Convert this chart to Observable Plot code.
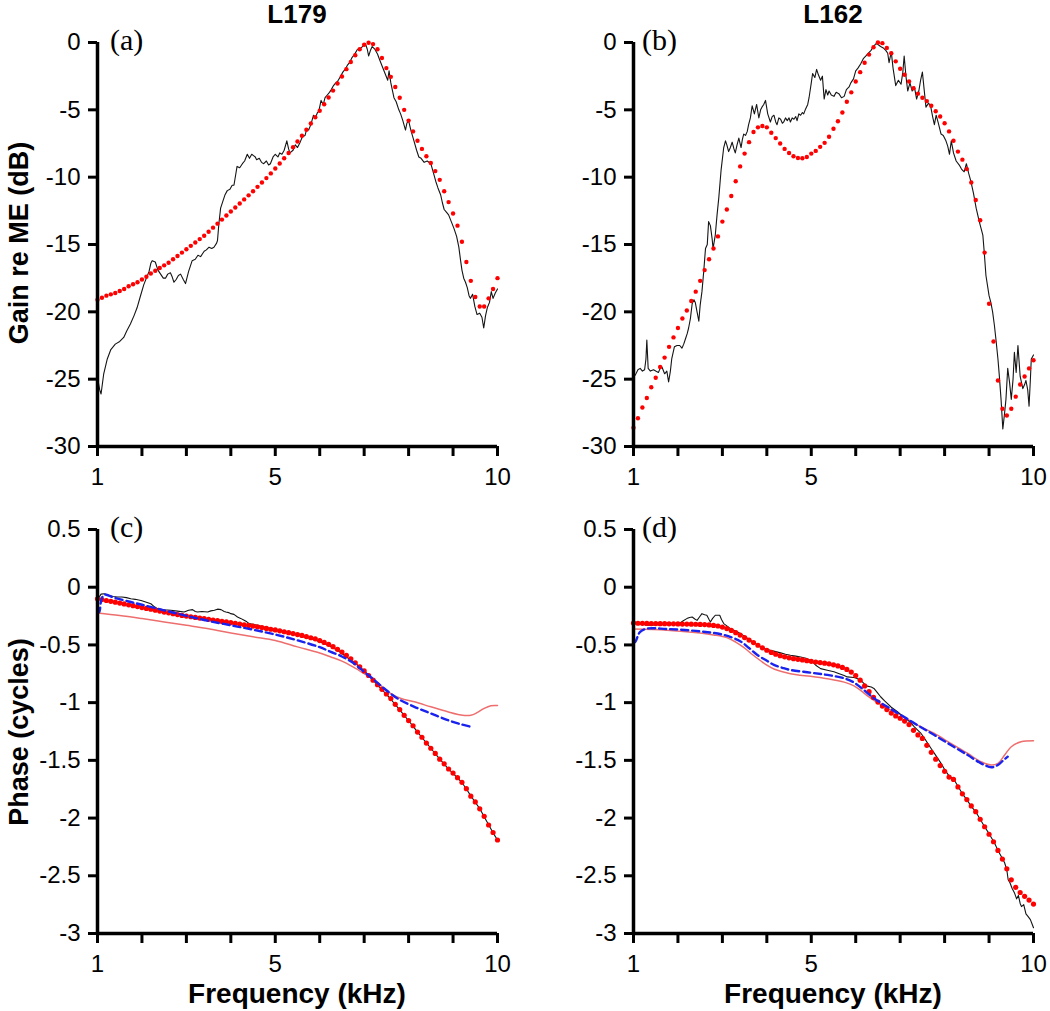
<!DOCTYPE html>
<html><head><meta charset="utf-8">
<script src="https://cdn.jsdelivr.net/npm/d3@7"></script>
<script src="https://cdn.jsdelivr.net/npm/@observablehq/plot@0.6"></script>
<style>
body{margin:0;background:#fff;}
#wrap{position:relative;width:1050px;height:1011px;font-family:"Liberation Sans",Arial,sans-serif;overflow:hidden;}
.panel{position:absolute;}
.t{position:absolute;line-height:1;white-space:nowrap;color:#000;}
.b{font-weight:bold;}
.serif{font-family:"Liberation Serif","Times New Roman",serif;font-size:30px;}
</style></head><body><div id="wrap"></div>
<script>
// ---------- axes / ticks ----------
const xTicks = [1,2,3,4,5,6,7,8,9,10];
const xLabels = [1,5,10];
const gainTicks = [-30,-25,-20,-15,-10,-5,0];
const phaseTicks = [-3,-2.5,-2,-1.5,-1,-0.5,0,0.5];
const subjects = ["L179","L162"];
const panelLetters = ["(a)","(b)","(c)","(d)"];

// model curves (red dots), sampled every 0.1 kHz from 1 to 10 kHz
const modelFreq = d3.range(0, 91).map(i => Math.round((1 + i / 10) * 10) / 10);

const modelGainA = [
 -19.1,-18.95,-18.8,-18.7,-18.6,-18.45,-18.3,-18.1,-17.95,-17.8,
 -17.6,-17.4,-17.15,-16.95,-16.75,-16.55,-16.35,-16.1,-15.85,-15.6,
 -15.35,-15.1,-14.85,-14.6,-14.35,-14.05,-13.75,-13.45,-13.15,-12.85,
 -12.55,-12.25,-11.95,-11.65,-11.35,-11.05,-10.72,-10.4,-10.07,-9.72,
 -9.36,-8.99,-8.6,-8.2,-7.78,-7.35,-6.92,-6.48,-6.02,-5.55,
 -5.07,-4.58,-4.08,-3.57,-3.05,-2.52,-1.98,-1.45,-0.95,-0.5,
 -0.17,-0.02,-0.12,-0.5,-1.15,-1.9,-2.55,-3.3,-4.1,-5.0,
 -5.8,-6.6,-7.3,-7.9,-8.45,-8.95,-9.55,-10.2,-11.05,-11.85,
 -12.7,-13.6,-14.8,-16.3,-17.7,-18.9,-19.6,-19.6,-19.0,-18.3,
 -17.5];

const modelGainB = [
 -28.6,-27.9,-27.1,-26.4,-25.6,-24.9,-24.1,-23.4,-22.6,-21.9,
 -21.2,-20.5,-19.9,-19.2,-18.5,-17.7,-16.9,-16.1,-15.3,-14.4,
 -13.3,-12.4,-11.4,-10.3,-9.2,-8.25,-7.4,-6.65,-6.3,-6.2,
 -6.3,-6.7,-7.1,-7.5,-7.9,-8.2,-8.45,-8.58,-8.6,-8.5,
 -8.25,-8.05,-7.75,-7.45,-7.0,-6.4,-5.85,-5.2,-4.4,-3.7,
 -2.9,-2.2,-1.5,-0.9,-0.35,0,-0.05,-0.4,-0.8,-1.4,
 -1.95,-2.4,-2.9,-3.4,-3.8,-4.1,-4.35,-4.7,-5.1,-5.5,
 -6.0,-6.6,-7.3,-8.1,-8.7,-9.4,-10.4,-11.7,-13.2,-15.6,
 -19.4,-22.2,-25.1,-27.2,-27.7,-27.2,-26.3,-25.4,-24.8,-24.2,
 -23.6];

const modelPhaseC = [
 -0.1,-0.107,-0.115,-0.122,-0.13,-0.137,-0.145,-0.153,-0.16,-0.168,
 -0.176,-0.184,-0.191,-0.199,-0.207,-0.215,-0.222,-0.229,-0.237,-0.244,
 -0.25,-0.256,-0.262,-0.267,-0.272,-0.278,-0.284,-0.29,-0.296,-0.301,
 -0.307,-0.313,-0.319,-0.325,-0.331,-0.337,-0.343,-0.35,-0.357,-0.364,
 -0.37,-0.378,-0.386,-0.394,-0.402,-0.41,-0.418,-0.428,-0.438,-0.447,
 -0.462,-0.478,-0.495,-0.515,-0.538,-0.562,-0.59,-0.62,-0.655,-0.69,
 -0.725,-0.765,-0.805,-0.845,-0.885,-0.925,-0.965,-1.015,-1.06,-1.11,
 -1.155,-1.2,-1.255,-1.3,-1.35,-1.395,-1.44,-1.49,-1.53,-1.575,
 -1.61,-1.65,-1.69,-1.745,-1.81,-1.86,-1.92,-1.985,-2.06,-2.125,
 -2.19];

const modelPhaseD = [
 -0.31,-0.312,-0.313,-0.314,-0.315,-0.315,-0.316,-0.316,-0.317,-0.317,
 -0.318,-0.319,-0.319,-0.32,-0.321,-0.322,-0.324,-0.327,-0.331,-0.336,
 -0.345,-0.358,-0.374,-0.394,-0.415,-0.436,-0.458,-0.48,-0.503,-0.525,
 -0.546,-0.565,-0.58,-0.593,-0.603,-0.612,-0.619,-0.625,-0.63,-0.636,
 -0.642,-0.648,-0.653,-0.658,-0.664,-0.672,-0.682,-0.695,-0.712,-0.735,
 -0.765,-0.805,-0.855,-0.905,-0.955,-0.995,-1.03,-1.06,-1.09,-1.115,
 -1.135,-1.16,-1.19,-1.24,-1.28,-1.31,-1.37,-1.43,-1.49,-1.545,
 -1.595,-1.645,-1.665,-1.73,-1.79,-1.84,-1.895,-1.945,-2.01,-2.075,
 -2.14,-2.205,-2.28,-2.355,-2.44,-2.535,-2.6,-2.645,-2.678,-2.71,
 -2.745];

// measured curves (black): [kHz, value]
const measGainA = [[1.0,-24.9],[1.05,-25.8],[1.08,-26.1],[1.14,-24.6],[1.22,-23.5],[1.3,-22.8],[1.4,-22.4],[1.5,-22.2],[1.59,-21.9],[1.66,-21.4],[1.74,-20.9],[1.82,-20.3],[1.89,-19.7],[1.96,-18.9],[2.04,-18.0],[2.1,-17.5],[2.16,-17.0],[2.2,-16.4],[2.23,-16.2],[2.3,-16.3],[2.36,-16.9],[2.42,-17.2],[2.48,-17.5],[2.53,-17.5],[2.58,-17.2],[2.64,-17.1],[2.68,-17.4],[2.72,-17.8],[2.77,-17.6],[2.82,-17.3],[2.87,-17.2],[2.93,-17.6],[2.98,-17.9],[3.05,-17.0],[3.13,-16.2],[3.2,-16.1],[3.26,-15.8],[3.32,-15.9],[3.4,-15.5],[3.45,-15.4],[3.51,-15.2],[3.57,-15.3],[3.62,-15.2],[3.68,-14.9],[3.7,-14.7],[3.73,-13.5],[3.77,-12.3],[3.82,-11.8],[3.87,-11.3],[3.92,-11.0],[3.98,-10.9],[4.03,-10.6],[4.07,-10.6],[4.11,-9.8],[4.14,-9.2],[4.2,-9.3],[4.26,-9.0],[4.31,-8.8],[4.37,-8.3],[4.42,-8.6],[4.47,-8.3],[4.51,-8.4],[4.55,-8.5],[4.58,-8.7],[4.64,-8.6],[4.69,-8.9],[4.74,-9.0],[4.8,-8.8],[4.85,-9.1],[4.89,-9.0],[4.95,-8.5],[5.0,-8.3],[5.06,-8.5],[5.1,-8.2],[5.15,-8.3],[5.2,-8.0],[5.26,-7.3],[5.3,-7.9],[5.33,-8.2],[5.4,-8.0],[5.45,-7.6],[5.5,-7.8],[5.56,-7.4],[5.61,-7.0],[5.67,-6.9],[5.71,-6.4],[5.75,-6.5],[5.8,-6.1],[5.86,-5.4],[5.9,-5.6],[5.95,-5.2],[5.98,-5.1],[6.03,-4.3],[6.08,-4.6],[6.12,-4.1],[6.17,-3.9],[6.22,-3.7],[6.26,-3.5],[6.31,-3.2],[6.36,-3.0],[6.4,-2.9],[6.47,-2.5],[6.52,-2.2],[6.57,-2.0],[6.62,-1.7],[6.67,-1.5],[6.73,-1.1],[6.78,-0.9],[6.85,-0.5],[6.9,-0.5],[6.96,-0.3],[7.0,-0.15],[7.03,-0.1],[7.07,-0.5],[7.1,-1.0],[7.14,-0.6],[7.18,-0.3],[7.24,-0.5],[7.3,-0.85],[7.35,-1.3],[7.41,-1.8],[7.47,-2.3],[7.53,-2.8],[7.56,-2.1],[7.6,-3.0],[7.67,-4.1],[7.72,-4.4],[7.78,-5.0],[7.82,-5.3],[7.87,-5.8],[7.93,-6.5],[7.96,-6.0],[8.0,-5.8],[8.05,-6.5],[8.12,-7.3],[8.18,-8.0],[8.23,-8.5],[8.28,-8.6],[8.35,-8.9],[8.42,-8.8],[8.5,-9.0],[8.56,-9.7],[8.61,-10.3],[8.66,-10.8],[8.72,-11.3],[8.76,-11.9],[8.8,-12.4],[8.85,-12.6],[8.9,-12.8],[8.96,-13.3],[9.02,-13.8],[9.08,-14.4],[9.13,-15.2],[9.17,-16.2],[9.2,-16.9],[9.24,-17.5],[9.28,-17.8],[9.32,-18.2],[9.36,-18.8],[9.39,-19.0],[9.44,-18.7],[9.49,-19.6],[9.54,-20.2],[9.6,-20.1],[9.65,-20.4],[9.69,-21.2],[9.73,-20.3],[9.77,-19.7],[9.82,-19.3],[9.86,-18.5],[9.9,-19.0],[9.95,-18.6],[10.0,-18.3]];

const measGainB = [[1.0,-24.8],[1.04,-24.7],[1.1,-24.3],[1.15,-24.2],[1.2,-24.4],[1.25,-24.3],[1.28,-23.5],[1.3,-22.1],[1.33,-24.2],[1.38,-24.4],[1.45,-24.3],[1.5,-24.4],[1.56,-24.5],[1.6,-24.2],[1.64,-24.1],[1.7,-24.6],[1.75,-24.4],[1.79,-25.2],[1.83,-24.4],[1.86,-23.5],[1.92,-22.6],[1.98,-22.5],[2.04,-22.5],[2.09,-22.7],[2.13,-22.4],[2.17,-22.0],[2.21,-21.6],[2.24,-21.2],[2.28,-20.5],[2.32,-19.4],[2.36,-19.1],[2.39,-19.3],[2.43,-20.0],[2.47,-20.7],[2.5,-19.5],[2.54,-18.5],[2.58,-17.0],[2.62,-15.3],[2.66,-15.0],[2.69,-13.3],[2.73,-13.6],[2.77,-14.6],[2.79,-15.3],[2.84,-14.3],[2.88,-12.8],[2.92,-11.5],[2.97,-9.5],[3.03,-7.8],[3.07,-7.3],[3.1,-7.6],[3.14,-8.1],[3.18,-7.8],[3.22,-7.4],[3.26,-7.9],[3.29,-8.2],[3.33,-7.6],[3.37,-7.1],[3.42,-7.8],[3.45,-7.2],[3.48,-6.8],[3.52,-6.9],[3.56,-6.6],[3.59,-6.1],[3.63,-5.6],[3.67,-4.7],[3.72,-5.3],[3.77,-4.6],[3.8,-5.2],[3.82,-5.6],[3.86,-5.0],[3.89,-4.8],[3.93,-4.6],[3.97,-4.3],[4.02,-5.3],[4.08,-5.9],[4.12,-5.5],[4.16,-5.4],[4.2,-5.9],[4.23,-6.1],[4.27,-5.6],[4.31,-5.7],[4.35,-6.0],[4.38,-5.9],[4.42,-5.6],[4.46,-5.8],[4.5,-5.6],[4.53,-5.9],[4.57,-5.6],[4.61,-5.7],[4.65,-5.5],[4.68,-5.8],[4.72,-5.3],[4.76,-5.4],[4.8,-5.2],[4.83,-5.3],[4.87,-4.95],[4.92,-4.6],[4.95,-4.1],[5.0,-3.0],[5.03,-2.3],[5.08,-2.6],[5.12,-2.0],[5.16,-2.4],[5.21,-2.8],[5.25,-2.5],[5.29,-4.2],[5.33,-3.5],[5.37,-3.9],[5.4,-3.6],[5.45,-3.9],[5.51,-4.0],[5.56,-3.7],[5.62,-3.8],[5.68,-4.1],[5.74,-4.0],[5.79,-3.5],[5.85,-3.3],[5.89,-3.0],[5.95,-2.7],[6.0,-2.1],[6.05,-1.9],[6.11,-1.6],[6.17,-1.2],[6.23,-1.0],[6.28,-0.8],[6.34,-0.6],[6.4,-0.3],[6.45,-0.1],[6.5,-0.15],[6.56,-0.3],[6.62,-0.4],[6.68,-0.6],[6.72,-0.8],[6.75,-1.5],[6.8,-0.7],[6.84,-1.9],[6.9,-3.2],[6.96,-2.8],[7.02,-3.1],[7.06,-2.2],[7.09,-1.0],[7.13,-2.5],[7.17,-3.6],[7.22,-3.0],[7.27,-3.6],[7.32,-3.3],[7.37,-4.2],[7.42,-3.6],[7.46,-2.8],[7.5,-2.2],[7.54,-3.5],[7.58,-4.8],[7.64,-4.5],[7.69,-4.8],[7.73,-5.5],[7.77,-6.1],[7.81,-5.4],[7.86,-6.0],[7.92,-6.8],[7.97,-6.9],[8.03,-7.3],[8.07,-7.7],[8.11,-8.3],[8.15,-7.3],[8.2,-8.2],[8.26,-8.8],[8.33,-9.1],[8.38,-9.4],[8.44,-9.6],[8.49,-9.0],[8.54,-9.7],[8.59,-10.3],[8.65,-11.2],[8.71,-12.3],[8.78,-13.3],[8.82,-13.8],[8.86,-14.3],[8.89,-15.5],[8.93,-17.3],[9.0,-18.8],[9.04,-19.3],[9.08,-20.0],[9.12,-21.0],[9.16,-22.2],[9.2,-23.5],[9.23,-24.7],[9.27,-26.5],[9.31,-28.7],[9.35,-27.5],[9.38,-26.5],[9.42,-24.2],[9.46,-25.2],[9.5,-26.5],[9.54,-25.0],[9.57,-23.0],[9.61,-24.5],[9.65,-22.5],[9.7,-24.8],[9.76,-25.7],[9.8,-25.4],[9.83,-25.1],[9.87,-25.8],[9.9,-27.0],[9.93,-25.0],[9.95,-23.5],[10.0,-23.2]];

const measPhaseC = [[1.0,-0.13],[1.03,-0.09],[1.08,-0.06],[1.15,-0.056],[1.25,-0.07],[1.35,-0.08],[1.45,-0.085],[1.55,-0.085],[1.65,-0.09],[1.75,-0.1],[1.85,-0.105],[1.98,-0.115],[2.1,-0.13],[2.2,-0.143],[2.28,-0.17],[2.35,-0.186],[2.5,-0.195],[2.65,-0.2],[2.8,-0.207],[2.95,-0.215],[3.05,-0.2],[3.14,-0.194],[3.2,-0.21],[3.25,-0.215],[3.35,-0.21],[3.48,-0.215],[3.55,-0.205],[3.63,-0.2],[3.7,-0.19],[3.78,-0.194],[3.85,-0.21],[3.89,-0.215],[3.95,-0.22],[4.0,-0.229],[4.07,-0.235],[4.15,-0.258],[4.22,-0.27],[4.3,-0.287],[4.36,-0.3],[4.41,-0.315],[4.5,-0.322],[4.6,-0.33],[4.75,-0.345],[4.9,-0.359],[5.05,-0.37],[5.2,-0.379],[5.35,-0.398],[5.5,-0.413],[5.65,-0.43],[5.8,-0.445],[5.95,-0.465],[6.1,-0.488],[6.2,-0.505],[6.33,-0.532],[6.45,-0.56],[6.55,-0.589],[6.65,-0.618],[6.78,-0.652],[6.9,-0.69],[7.0,-0.722],[7.1,-0.765],[7.2,-0.805],[7.3,-0.848],[7.4,-0.888],[7.5,-0.928],[7.6,-0.97],[7.7,-1.018],[7.8,-1.063],[7.9,-1.11],[8.0,-1.157],[8.1,-1.203],[8.2,-1.255],[8.3,-1.302],[8.4,-1.348],[8.5,-1.395],[8.6,-1.443],[8.7,-1.488],[8.8,-1.533],[8.9,-1.576],[9.0,-1.612],[9.1,-1.652],[9.2,-1.692],[9.3,-1.748],[9.4,-1.808],[9.5,-1.863],[9.6,-1.918],[9.7,-1.988],[9.8,-2.058],[9.9,-2.128],[10.0,-2.19]];

const measPhaseD = [[1.0,-0.30],[1.1,-0.31],[1.2,-0.32],[1.3,-0.33],[1.38,-0.33],[1.5,-0.328],[1.6,-0.325],[1.75,-0.321],[1.9,-0.318],[2.05,-0.31],[2.12,-0.29],[2.2,-0.272],[2.26,-0.262],[2.32,-0.258],[2.38,-0.275],[2.43,-0.287],[2.48,-0.26],[2.54,-0.229],[2.6,-0.238],[2.65,-0.243],[2.7,-0.28],[2.73,-0.301],[2.78,-0.27],[2.84,-0.243],[2.94,-0.243],[2.98,-0.28],[3.03,-0.315],[3.1,-0.335],[3.18,-0.359],[3.3,-0.38],[3.41,-0.402],[3.52,-0.43],[3.63,-0.46],[3.75,-0.49],[3.86,-0.517],[3.97,-0.535],[4.08,-0.546],[4.2,-0.558],[4.31,-0.569],[4.42,-0.58],[4.53,-0.589],[4.65,-0.597],[4.76,-0.604],[4.88,-0.615],[4.98,-0.632],[5.05,-0.655],[5.1,-0.676],[5.21,-0.705],[5.36,-0.719],[5.51,-0.733],[5.66,-0.754],[5.74,-0.765],[5.81,-0.777],[5.96,-0.782],[6.03,-0.79],[6.11,-0.805],[6.2,-0.84],[6.26,-0.857],[6.35,-0.865],[6.41,-0.877],[6.5,-0.92],[6.56,-0.949],[6.65,-0.985],[6.71,-1.007],[6.8,-1.04],[6.94,-1.079],[7.05,-1.115],[7.17,-1.151],[7.25,-1.18],[7.32,-1.209],[7.4,-1.24],[7.47,-1.267],[7.55,-1.31],[7.62,-1.353],[7.7,-1.4],[7.77,-1.44],[7.85,-1.485],[7.92,-1.526],[8.0,-1.58],[8.1,-1.635],[8.2,-1.66],[8.3,-1.725],[8.4,-1.79],[8.5,-1.84],[8.6,-1.9],[8.7,-1.945],[8.8,-2.01],[8.9,-2.075],[9.0,-2.135],[9.12,-2.214],[9.2,-2.28],[9.3,-2.35],[9.35,-2.387],[9.4,-2.45],[9.43,-2.534],[9.47,-2.56],[9.52,-2.61],[9.57,-2.646],[9.62,-2.7],[9.66,-2.67],[9.7,-2.74],[9.73,-2.767],[9.78,-2.75],[9.83,-2.83],[9.88,-2.854],[9.93,-2.88],[9.97,-2.92],[10.0,-2.95]];

// secondary model (thin salmon line) and fitted curve (blue dashed)
const salmonPhaseC = [[1.0,-0.223],[1.5,-0.245],[2.0,-0.272],[2.5,-0.301],[3.0,-0.33],[3.5,-0.36],[4.0,-0.396],[4.5,-0.43],[5.0,-0.462],[5.5,-0.517],[6.0,-0.57],[6.25,-0.604],[6.5,-0.64],[6.75,-0.69],[7.0,-0.748],[7.23,-0.805],[7.45,-0.877],[7.6,-0.921],[7.83,-0.964],[8.13,-0.993],[8.5,-1.036],[8.88,-1.079],[9.18,-1.108],[9.4,-1.11],[9.55,-1.085],[9.7,-1.05],[9.85,-1.027],[10.0,-1.025]];
const bluePhaseC = [[1.0,-0.2],[1.04,-0.215],[1.08,-0.12],[1.15,-0.065],[1.38,-0.091],[1.75,-0.128],[2.0,-0.152],[2.5,-0.2],[3.0,-0.248],[3.5,-0.292],[4.0,-0.33],[4.5,-0.368],[5.0,-0.41],[5.5,-0.46],[6.0,-0.52],[6.25,-0.56],[6.5,-0.6],[6.75,-0.655],[7.0,-0.733],[7.23,-0.805],[7.45,-0.877],[7.75,-0.964],[8.13,-1.036],[8.5,-1.094],[8.88,-1.151],[9.2,-1.19],[9.4,-1.209]];
const salmonPhaseD = [[1.0,-0.362],[1.75,-0.372],[2.5,-0.397],[2.8,-0.413],[3.1,-0.437],[3.3,-0.475],[3.48,-0.522],[3.68,-0.585],[3.86,-0.637],[4.0,-0.675],[4.16,-0.708],[4.35,-0.733],[4.53,-0.75],[4.75,-0.762],[4.98,-0.772],[5.36,-0.793],[5.74,-0.822],[5.95,-0.852],[6.11,-0.894],[6.25,-0.937],[6.41,-0.98],[6.71,-1.05],[7.02,-1.108],[7.39,-1.195],[7.77,-1.267],[8.14,-1.353],[8.52,-1.44],[8.82,-1.512],[9.05,-1.54],[9.2,-1.526],[9.35,-1.454],[9.5,-1.382],[9.72,-1.339],[10.0,-1.33]];
const bluePhaseD = [[1.0,-0.48],[1.04,-0.474],[1.1,-0.42],[1.15,-0.387],[1.3,-0.359],[1.75,-0.362],[2.5,-0.383],[3.03,-0.413],[3.41,-0.47],[3.6,-0.527],[3.78,-0.585],[4.0,-0.637],[4.16,-0.673],[4.35,-0.698],[4.53,-0.717],[4.98,-0.74],[5.36,-0.76],[5.74,-0.789],[5.95,-0.823],[6.11,-0.867],[6.41,-0.962],[6.71,-1.036],[7.02,-1.108],[7.39,-1.195],[7.77,-1.281],[8.14,-1.367],[8.52,-1.454],[8.82,-1.526],[9.05,-1.56],[9.2,-1.54],[9.32,-1.5],[9.42,-1.468]];

// ---------- drawing ----------
const wrap = document.getElementById("wrap");
const toModel = vals => modelFreq.map((f, i) => ({f, v: vals[i]}));
const X = d => d[0], Y = d => d[1];

function makePanel(o) {
  const marks = [
    Plot.axisX({ticks: xTicks, tickSize: 10, tickPadding: 11, strokeWidth: 3,
      tickFormat: d => xLabels.includes(d) ? String(d) : "", label: null}),
    Plot.axisY({ticks: o.yTicks, tickSize: 9, tickPadding: 8, strokeWidth: 3,
      tickFormat: d => String(d), label: null})
  ];
  if (o.salmon) marks.push(Plot.line(o.salmon, {x: X, y: Y, stroke: "#ee6e6e", strokeWidth: 1.5, curve: "catmull-rom"}));
  marks.push(Plot.line(o.meas, {x: X, y: Y, stroke: "#151515", strokeWidth: o.measWidth}));
  marks.push(Plot.dot(toModel(o.model), {x: "f", y: "v", r: o.r, fill: "#ff0000", stroke: "none"}));
  if (o.blue) marks.push(Plot.line(o.blue, {x: X, y: Y, stroke: "#1a22ee", strokeWidth: 2.4, strokeDasharray: "7,4", curve: "catmull-rom"}));
  marks.push(Plot.ruleX([1], {strokeWidth: 3.5}));
  marks.push(Plot.ruleY([o.yDomain[0]], {strokeWidth: 3.5}));
  const svg = Plot.plot({
    width: 525, height: o.height,
    marginLeft: o.ml, marginRight: 525 - o.ml - 400, marginTop: o.mt, marginBottom: o.height - o.mt - 404,
    x: {domain: [1, 10]},
    y: {domain: o.yDomain},
    style: {fontFamily: "'Liberation Sans', Arial, sans-serif", fontSize: "24px", color: "#000", background: "transparent", overflow: "visible"},
    marks
  });
  const div = document.createElement("div");
  div.className = "panel";
  div.style.left = o.left + "px";
  div.style.top = o.top + "px";
  div.appendChild(svg);
  wrap.appendChild(div);
}

makePanel({left: 0, top: 0, height: 500, ml: 97, mt: 42, yDomain: [-30, 0], yTicks: gainTicks, meas: measGainA, model: modelGainA, r: 2.2, measWidth: 1.1});
makePanel({left: 525, top: 0, height: 500, ml: 108, mt: 42, yDomain: [-30, 0], yTicks: gainTicks, meas: measGainB, model: modelGainB, r: 2.2, measWidth: 1.1});
makePanel({left: 0, top: 500, height: 511, ml: 97, mt: 29, yDomain: [-3, 0.5], yTicks: phaseTicks, meas: measPhaseC, model: modelPhaseC, r: 2.6, measWidth: 1.1, salmon: salmonPhaseC, blue: bluePhaseC});
makePanel({left: 525, top: 500, height: 511, ml: 108, mt: 29, yDomain: [-3, 0.5], yTicks: phaseTicks, meas: measPhaseD, model: modelPhaseD, r: 2.6, measWidth: 1.1, salmon: salmonPhaseD, blue: bluePhaseD});

// ---------- text ----------
function addText(txt, cls, left, top, size, transform) {
  const d = document.createElement("div");
  d.className = "t " + cls;
  d.textContent = txt;
  d.style.left = left + "px";
  d.style.top = top + "px";
  if (size) d.style.fontSize = size + "px";
  if (transform) d.style.transform = transform;
  wrap.appendChild(d);
}
addText(subjects[0], "b", 297, 1, 26, "translateX(-50%)");
addText(subjects[1], "b", 833, 1, 26, "translateX(-50%)");
addText(panelLetters[0], "serif", 110, 25);
addText(panelLetters[1], "serif", 642, 25);
addText(panelLetters[2], "serif", 110, 512);
addText(panelLetters[3], "serif", 642, 512);
addText("Gain re ME (dB)", "b", 18.6, 243, 27, "translate(-50%,-50%) rotate(-90deg)");
addText("Phase (cycles)", "b", 18.6, 732, 27, "translate(-50%,-50%) rotate(-90deg)");
addText("Frequency (kHz)", "b", 297, 980, 28, "translateX(-50%)");
addText("Frequency (kHz)", "b", 833, 980, 28, "translateX(-50%)");
</script></body></html>
